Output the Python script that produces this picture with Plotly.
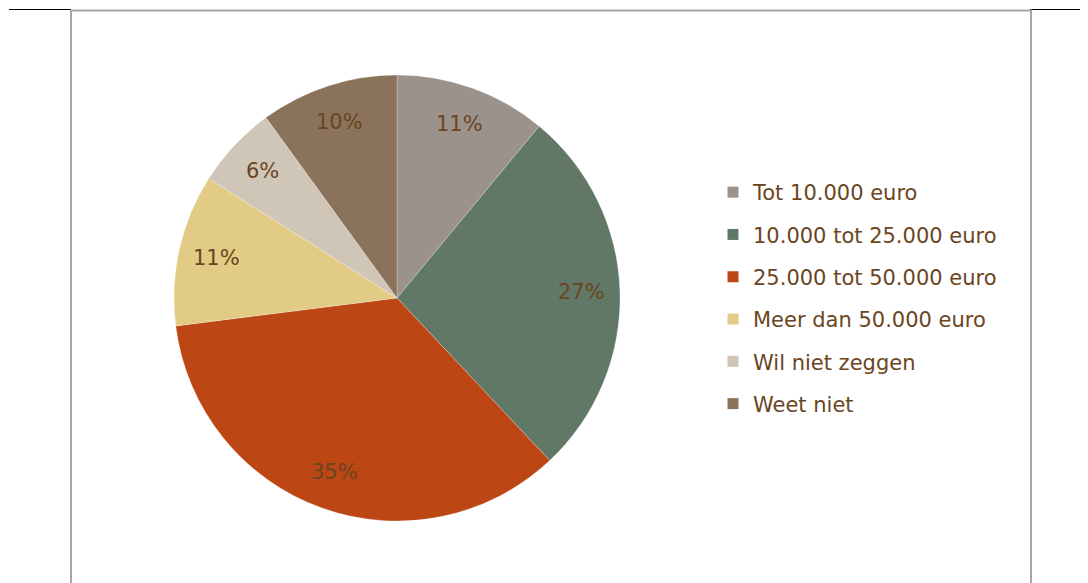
import math

import plotly.graph_objects as go

CATEGORIES = [
    "Tot 10.000 euro",
    "10.000 tot 25.000 euro",
    "25.000 tot 50.000 euro",
    "Meer dan 50.000 euro",
    "Wil niet zeggen",
    "Weet niet",
]
SHARES = [11, 27, 35, 11, 6, 10]
COLORS = ["#9b938b", "#627866", "#bc4614", "#e2cb85", "#cfc6b8", "#8a735a"]

TEXT_COLOR = "#6b4522"
FONT = "DejaVu Sans"
W, H = 1088, 583
OFF = 8  # page body margin

# pie placement (screen pixels)
CX, CY, R = 397 - OFF, 298 - OFF, 223
dom_x = [(CX - R) / W, (CX + R) / W]
dom_y = [(H - CY - R) / H, (H - CY + R) / H]


def px(x):
    return (x - OFF) / W


def py(y):
    return 1 - (y - OFF) / H


fig = go.Figure()
fig.add_trace(
    go.Pie(
        labels=CATEGORIES,
        values=SHARES,
        sort=False,
        direction="clockwise",
        rotation=0,
        marker=dict(colors=COLORS, line=dict(color="rgba(255,255,255,0.5)", width=0.5)),
        textinfo="none",
        hoverinfo="label+percent",
        showlegend=False,
        domain=dict(x=dom_x, y=dom_y),
    )
)

# percentage labels near the outer part of each slice
total = sum(SHARES)
cum = 0
for v in SHARES:
    mid = (cum + v / 2) / total * 2 * math.pi
    cum += v
    rr = 0.83 * R
    lx = CX + rr * math.sin(mid)
    ly = CY - rr * math.cos(mid)
    fig.add_annotation(
        x=lx / W, y=1 - ly / H, xref="paper", yref="paper",
        xanchor="center", yanchor="middle",
        text=f"{round(v / total * 100)}%", showarrow=False,
        font=dict(family=FONT, size=21, color=TEXT_COLOR),
    )

# legend entries
for i, (name, col) in enumerate(zip(CATEGORIES, COLORS)):
    fig.add_trace(
        go.Scatter(
            x=[None], y=[None], mode="markers", name=name,
            marker=dict(symbol="square", size=11, color=col),
            legendgroup=f"g{i}", showlegend=True,
        )
    )

fig.update_layout(
    width=W, height=H,
    margin=dict(l=0, r=0, t=0, b=0),
    paper_bgcolor="#ffffff",
    plot_bgcolor="#ffffff",
    xaxis=dict(visible=False),
    yaxis=dict(visible=False),
    legend=dict(
        x=px(713), y=py(172), xanchor="left", yanchor="top",
        font=dict(family=FONT, size=21, color=TEXT_COLOR),
        tracegroupgap=12, itemwidth=30,
        bgcolor="rgba(0,0,0,0)",
    ),
    shapes=[
        dict(type="line", xref="paper", yref="paper", x0=px(9), x1=px(71),
             y0=py(9.5), y1=py(9.5), line=dict(color="#000000", width=1)),
        dict(type="line", xref="paper", yref="paper", x0=px(1030), x1=1,
             y0=py(9.5), y1=py(9.5), line=dict(color="#000000", width=1)),
        dict(type="rect", xref="paper", yref="paper", x0=px(71), x1=px(1031),
             y0=-0.05, y1=py(10.5), line=dict(color="#ada5a0", width=2)),
    ],
)

fig.write_html("out.html")
